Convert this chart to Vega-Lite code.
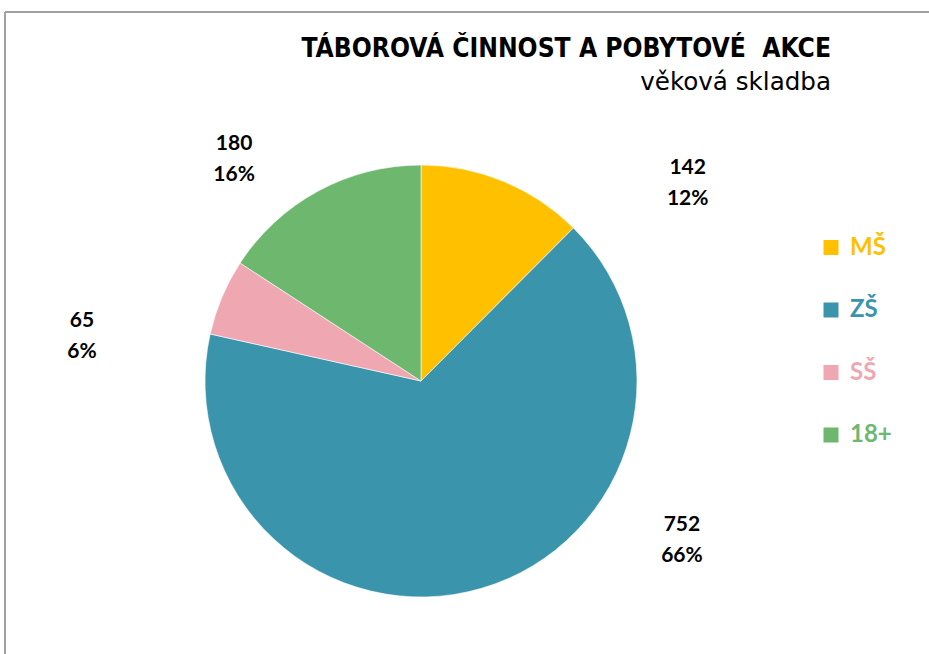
{
  "$schema": "https://vega.github.io/schema/vega-lite/v6.json",
  "autosize": {"type": "none"},
  "width": 832,
  "height": 738,
  "padding": {"left": 5, "top": 12, "right": 92, "bottom": 0},
  "background": "white",
  "config": {"view": {"stroke": null}},
  "title": {
    "text": "TÁBOROVÁ ČINNOST A POBYTOVÉ\u00a0 AKCE",
    "subtitle": "věková skladba",
    "anchor": "end",
    "orient": "top",
    "frame": "group",
    "dx": -6,
    "dy": 88,
    "font": "DejaVu Sans Condensed",
    "fontSize": 26.2,
    "fontWeight": "bold",
    "color": "black",
    "subtitleFont": "DejaVu Sans",
    "subtitleFontSize": 24.6,
    "subtitleColor": "black",
    "subtitlePadding": 9
  },
  "data": {
    "values": [
      {"cat": "MŠ", "value": 142, "order": 1, "lbl": ["142", "12%"]},
      {"cat": "ZŠ", "value": 752, "order": 2, "lbl": ["752", "66%"]},
      {"cat": "SŠ", "value": 65, "order": 3, "lbl": ["65", "6%"]},
      {"cat": "18+", "value": 180, "order": 4, "lbl": ["180", "16%"]}
    ]
  },
  "encoding": {
    "theta": {"field": "value", "type": "quantitative", "stack": true},
    "order": {"field": "order", "type": "quantitative"}
  },
  "layer": [
    {
      "data": {"values": [{"edge": "left"}]},
      "mark": {"type": "rule", "color": "#a0a0a0", "strokeWidth": 2},
      "encoding": {"theta": null, "order": null, "x": {"value": 0}}
    },
    {
      "data": {"values": [{"edge": "top"}]},
      "mark": {"type": "rule", "color": "#a0a0a0", "strokeWidth": 2, "orient": "horizontal"},
      "encoding": {"theta": null, "order": null, "y": {"value": 0}, "x": {"value": 0}, "x2": {"value": {"expr": "width + 92"}}}
    },
    {
      "mark": {"type": "arc", "outerRadius": 216, "stroke": "white", "strokeWidth": 0.6},
      "encoding": {
        "color": {
          "field": "cat",
          "type": "nominal",
          "scale": {"domain": ["MŠ", "ZŠ", "SŠ", "18+"], "range": ["#FFC000", "#3A94AC", "#EFA7B2", "#6DB76F"]},
          "legend": {
            "title": null,
            "orient": "none",
            "legendX": 814,
            "legendY": 223.5,
            "padding": 0,
            "symbolType": "square",
            "symbolSize": 225,
            "symbolStrokeWidth": 0,
            "labelFont": "Lato",
            "labelFontSize": 24,
            "labelFontWeight": "bold",
            "labelOffset": 7,
            "rowPadding": 38.5,
            "labelColor": {"expr": "scale('color', datum.value)"}
          }
        }
      }
    },
    {
      "mark": {"type": "text", "radius": 333, "thetaOffset": 0.537, "dy": -14, "font": "Lato", "fontSize": 21, "fontWeight": "bold", "lineHeight": 31, "align": "center", "baseline": "middle", "color": "black"},
      "encoding": {"text": {"condition": {"test": "datum.cat === 'MŠ'", "field": "lbl"}, "value": ""}}
    },
    {
      "mark": {"type": "text", "radius": 306, "thetaOffset": -0.737, "dy": -15.5, "font": "Lato", "fontSize": 21, "fontWeight": "bold", "lineHeight": 31, "align": "center", "baseline": "middle", "color": "black"},
      "encoding": {"text": {"condition": {"test": "datum.cat === 'ZŠ'", "field": "lbl"}, "value": ""}}
    },
    {
      "mark": {"type": "text", "radius": 342, "thetaOffset": -0.268, "dy": -15.5, "font": "Lato", "fontSize": 21, "fontWeight": "bold", "lineHeight": 31, "align": "center", "baseline": "middle", "color": "black"},
      "encoding": {"text": {"condition": {"test": "datum.cat === 'SŠ'", "field": "lbl"}, "value": ""}}
    },
    {
      "mark": {"type": "text", "radius": 290, "thetaOffset": -0.204, "dy": -15.5, "font": "Lato", "fontSize": 21, "fontWeight": "bold", "lineHeight": 31, "align": "center", "baseline": "middle", "color": "black"},
      "encoding": {"text": {"condition": {"test": "datum.cat === '18+'", "field": "lbl"}, "value": ""}}
    }
  ]
}
